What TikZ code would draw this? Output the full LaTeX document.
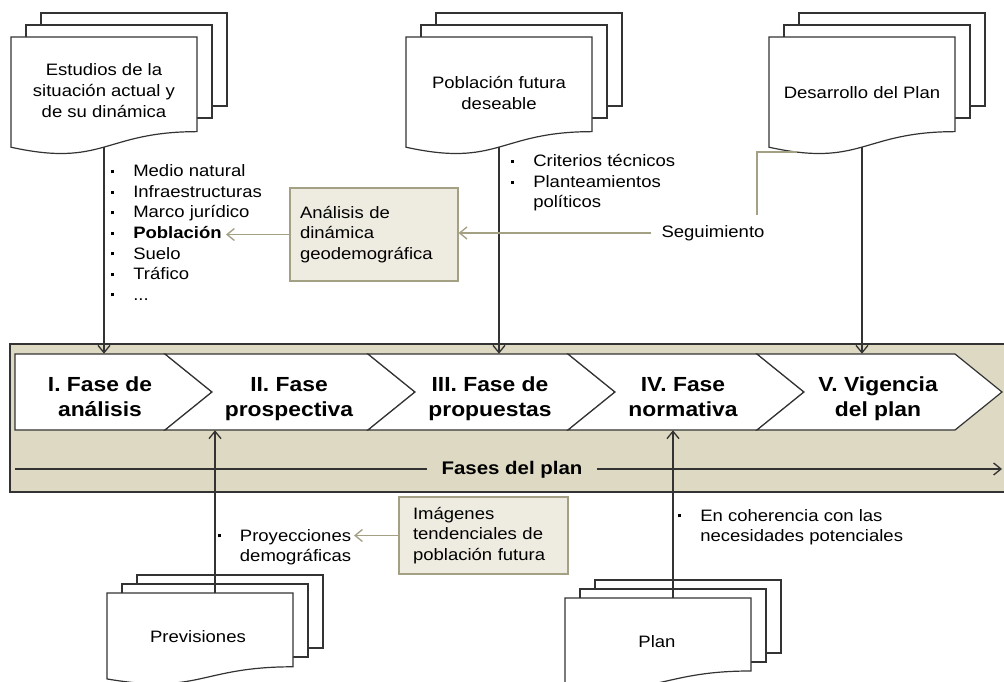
\documentclass[tikz,border=0pt]{standalone}
\usepackage{fontspec}
\setmainfont{Liberation Sans}[FakeStretch=1.12]
\usetikzlibrary{arrows.meta}

\definecolor{bandfill}{HTML}{DDD9C3}
\definecolor{boxfill}{HTML}{EEECE1}
\definecolor{sageline}{HTML}{A3A084}
\definecolor{inkline}{HTML}{333333}

% stacked document symbol: #1 name, #2 left, #3 top (front page), #4 width,
% #5 front height, #6 vertical step between pages, #7 height of back pages
\newcommand\docstack[7]{%
  \draw[docline] ({#2+30},{#3-2*#6}) rectangle ++(#4,#7);
  \draw[docline] ({#2+15},{#3-#6}) rectangle ++(#4,#7);
  \draw[docline] (#2,#3) -- ({#2+#4},#3) -- ({#2+#4},{#3+0.802*#5})
    .. controls ({#2+0.5*#4},{#3+0.802*#5}) and ({#2+0.5*#4},{#3+1.1075*#5})
    .. (#2,{#3+0.934*#5}) -- cycle;
  \coordinate (#1-bot) at ({#2+0.5*#4},{#3+0.933*#5});
  \coordinate (#1-mid) at ({#2+15+0.5*#4},#3);
}
% bullet mark of the item lists
\newcommand\lbul{\makebox[16.5pt][l]{\raisebox{0.22em}{\rule{2.3pt}{2.3pt}}}}
\newcommand\lind{\hspace*{16.5pt}}
% two-line phase title, set a little below the centre of its chevron
\newcommand\phasetitle[2]{\raisebox{-9pt}[0pt][0pt]{\begin{tabular}{@{}c@{}}#1\\#2\end{tabular}}}

\tikzset{
  docline/.style={draw=inkline, line width=0.9pt, fill=white},
  arr/.style={draw=inkline, line width=1pt, -{Straight Barb[length=5.5pt,width=9pt]}},
  sagearr/.style={draw=sageline, line width=1pt, -{Straight Barb[length=5.5pt,width=9pt]}},
  sage/.style={draw=sageline, line width=1pt},
  body/.style={font=\fontsize{12.4pt}{15.4pt}\selectfont, inner sep=0pt},
  doctext/.style={font=\fontsize{12.4pt}{15.75pt}\selectfont, align=center, inner sep=0pt},
  listnode/.style={body, align=left, anchor=west},
  notebox/.style={draw=sageline, line width=0.9pt, fill=boxfill, align=left,
    font=\fontsize{12.4pt}{15.4pt}\selectfont},
  chev/.style={draw=inkline, line width=0.9pt, fill=white},
  phasetext/.style={font=\bfseries\fontsize{15.3pt}{18.75pt}\selectfont,
    inner sep=0pt, minimum height=57pt},
}

\begin{document}
\begin{tikzpicture}[x=0.75pt, y=-0.75pt, line join=miter]
\useasboundingbox (0,0) rectangle (1004,682);

% band of the plan phases
\fill[bandfill] (10,344) rectangle (1004,492);
\draw[inkline, line width=1pt] (1004,344) -- (10,344) -- (10,492) -- (1004,492);

% phase chevrons
\draw[chev] (15,354) -- (165,354) -- (212,392) -- (165,430) -- (15,430) -- cycle;
\draw[chev] (165,354) -- (368,354) -- (415,392) -- (368,430) -- (165,430) -- (212,392) -- cycle;
\draw[chev] (368,354) -- (568,354) -- (615,392) -- (568,430) -- (368,430) -- (415,392) -- cycle;
\draw[chev] (568,354) -- (757,354) -- (804,392) -- (757,430) -- (568,430) -- (615,392) -- cycle;
\draw[chev] (757,354) -- (955,354) -- (1002,392) -- (955,430) -- (757,430) -- (804,392) -- cycle;

\node[phasetext] (ph1) at (100,392) {\phasetitle{I. Fase de}{análisis}};
\node[phasetext] (ph2) at (289,392) {\phasetitle{II. Fase}{prospectiva}};
\node[phasetext] (ph3) at (490,392) {\phasetitle{III. Fase de}{propuestas}};
\node[phasetext] (ph4) at (683,392) {\phasetitle{IV. Fase}{normativa}};
\node[phasetext] (ph5) at (878,392) {\phasetitle{V. Vigencia}{del plan}};

% time line of the phases
\node[font=\bfseries\fontsize{13.7pt}{16pt}\selectfont, inner xsep=11pt, inner ysep=0pt] (fases) at (512,470) {Fases del plan};
\coordinate (fl) at (15,469);
\coordinate (fr) at (1002,469);
\draw[inkline, line width=1pt] (fl) -- (fl -| fases.west);
\draw[arr] (fases.east |- fr) -- (fr);

% documents
\docstack{est}{11}{37}{186}{118}{12}{93}
\docstack{pob}{406}{37}{186}{118}{12}{93}
\docstack{des}{769}{37}{186}{118}{12}{93}
\docstack{prev}{107}{593}{186}{92}{9}{73}
\docstack{plan}{565}{598}{186}{91}{9}{73}

\node[doctext] (estudios) at (104,91) {Estudios de la\\situación actual y\\de su dinámica};
\node[doctext] (futura) at (499,93) {Población futura\\deseable};
\node[doctext] (desarrollo) at (862,93) {Desarrollo del Plan};
\node[doctext] (previsiones) at (198,637) {Previsiones};
\node[doctext] (plan) at (657,642) {Plan};

% item lists
\node[listnode] (temas) at (111,232.5) {\lbul Medio natural\\\lbul Infraestructuras\\\lbul Marco jurídico\\\lbul \textbf{Población}\\\lbul Suelo\\\lbul Tráfico\\\lbul ...};
\node[listnode] (criterios) at (511,183) {\lbul Criterios técnicos\\\lbul Planteamientos\\\lind políticos};
\node[listnode, inner xsep=2pt] (proy) at (215,547) {\lbul Proyecciones\\\lind demográficas};
\node[listnode] (coher) at (678,527) {\lbul En coherencia con las\\\lind necesidades potenciales};

% notes
\node[notebox, minimum width=126pt, minimum height=69.75pt, text width=111pt, inner xsep=7.5pt] (analisis) at (374,234.5) {Análisis de\\dinámica\\geodemográfica};
\node[notebox, minimum width=126.75pt, minimum height=57.75pt, text width=105.75pt, inner xsep=10.5pt] (imagenes) at (483.5,535.5) {Imágenes\\tendenciales de\\población futura};
\node[body, inner xsep=7.5pt] (seg) at (713,233) {Seguimiento};

% connectors
\draw[arr] (est-bot) -- (est-bot |- ph1.north);
\draw[arr] (pob-bot) -- (pob-bot |- ph3.north);
\draw[arr] (des-bot) -- (des-bot |- ph5.north);
\draw[arr] (prev-mid) -- (prev-mid |- ph2.south);
\draw[arr] (plan-mid) -- (plan-mid |- ph4.south);

\coordinate (segA) at (797,152);
\coordinate (segB) at (757,215);
\draw[sage] (segA) -| (segB);
\draw[sagearr] (seg.west) -- (seg.west -| analisis.east);
\coordinate (pobl) at (226,232);
\draw[sagearr] (analisis.west) -- (analisis.west -| pobl);
\draw[sagearr] (imagenes.west) -- (imagenes.west -| proy.east);
\end{tikzpicture}
\end{document}
